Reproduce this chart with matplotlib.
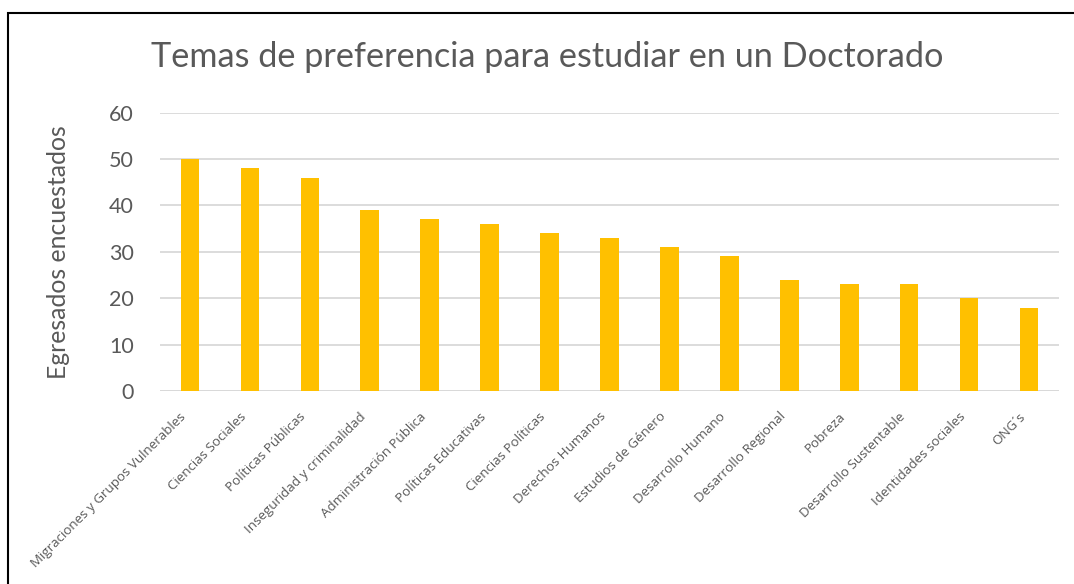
import matplotlib
matplotlib.use("Agg")
import matplotlib.pyplot as plt
from matplotlib.patches import Rectangle
from matplotlib.transforms import ScaledTranslation

categories = [
    "Migraciones y Grupos Vulnerables", "Ciencias Sociales", "Políticas Públicas",
    "Inseguridad y criminalidad", "Administración Pública", "Políticas Educativas",
    "Ciencias Políticas", "Derechos Humanos", "Estudios de Género",
    "Desarrollo Humano", "Desarrollo Regional", "Pobreza",
    "Desarrollo Sustentable", "Identidades sociales", "ONG´s",
]
values = [50, 48, 46, 39, 37, 36, 34, 33, 31, 29, 24, 23, 23, 20, 18]
yticks = [0, 10, 20, 30, 40, 50, 60]

title = "Temas de preferencia para estudiar en un Doctorado"
ylabel = "Egresados encuestados"

plt.rcParams['font.family'] = ['Lato', 'DejaVu Sans']
txt = "#595959"

fig = plt.figure(figsize=(10.74, 5.84), dpi=100)
ax = fig.add_axes([160/1074, 1-391/584, (1059-160)/1074, (391-112.7)/584])

x = list(range(len(categories)))
ax.bar(x, values, width=0.31, color="#FFC000", zorder=3)
ax.set_xlim(-0.5, len(categories)-0.5)
ax.set_ylim(0, 60)
ax.set_yticks(yticks)
ax.set_yticklabels([str(t) for t in yticks], fontsize=15.5, color=txt)
ax.yaxis.grid(True, color="#D9D9D9", linewidth=1.3, zorder=0)
ax.tick_params(axis='both', length=0)
ax.tick_params(axis='y', pad=19)
for s in ax.spines.values():
    s.set_visible(False)
ax.axhline(0, color="#D9D9D9", linewidth=1.3, zorder=2)

ax.set_xticks(x)
ax.set_xticklabels(categories, rotation=45, ha='right', va='center',
                   rotation_mode='anchor', fontsize=9.6, color=txt,
                   family=['Open Sans', 'DejaVu Sans'])
ax.tick_params(axis='x', pad=17)
shift = ScaledTranslation(-6/100, 0, fig.dpi_scale_trans)
for lbl in ax.get_xticklabels():
    lbl.set_transform(lbl.get_transform() + shift)

fig.text(59/1074, 1-252/584, ylabel, rotation=90, ha='center', va='center',
         fontsize=17.8, color=txt)
fig.text(547/1074, 1-57/584, title, ha='center', va='center', fontsize=24.7, color=txt)

fig.patches.append(Rectangle((8/1074, -0.1), 1.2, 1-13/584+0.1, transform=fig.transFigure,
                             fill=False, edgecolor='black', linewidth=1.5, zorder=10))

fig.savefig("out.png", dpi=100, facecolor='white')
